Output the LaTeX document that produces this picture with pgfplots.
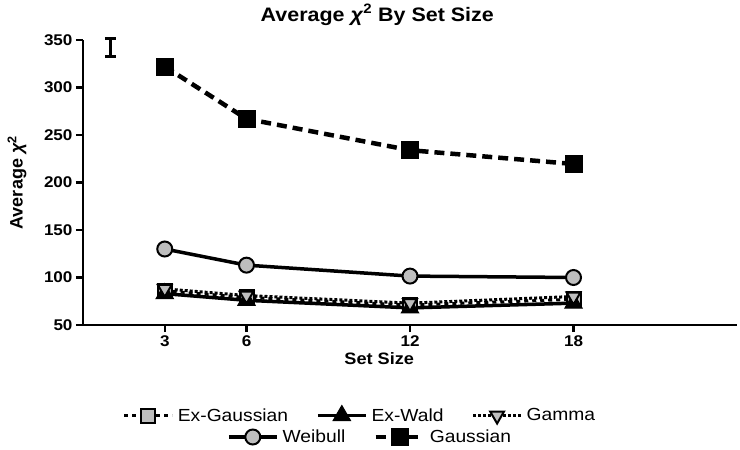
\documentclass[border=0pt]{standalone}
\usepackage{fontspec}
\setmainfont{Liberation Sans}[FakeStretch=1.1]
\newfontfamily\plainsf{Liberation Sans}
\usepackage{pgfplots}
\pgfplotsset{compat=1.18}
\definecolor{mgrey}{HTML}{BEBEBE}

\pgfplotsset{
  exgauss/.style={black, line width=3pt, dash pattern=on 4pt off 4pt,
    mark=square*, mark size=7pt, mark options={solid, fill=mgrey, line width=2pt}},
  exwald/.style={black, line width=3.5pt, solid,
    mark=triangle*, mark size=10pt, mark options={solid, fill=black, line width=1pt}},
  gammad/.style={black, line width=3pt, dash pattern=on 3pt off 2pt,
    mark=triangle*, mark size=8pt, mark options={solid, rotate=180, fill=mgrey, line width=2pt}},
  weib/.style={black, line width=3.5pt, solid,
    mark=*, mark size=7.5pt, mark options={solid, fill=mgrey, line width=2pt}},
  gauss/.style={black, line width=4.5pt, dash pattern=on 10pt off 6pt,
    mark=square*, mark size=8.5pt, mark options={solid, fill=black, line width=1pt}},
  leg/.style={
    legend image code/.code={\draw[mark repeat=2,mark phase=2,##1] plot coordinates {(0pt,0pt) (24pt,0pt) (48pt,0pt)};},
    legend style={draw=none, fill=none, anchor=center,
      font=\fontsize{17.5}{17.5}\selectfont,
      /tikz/every even column/.append style={column sep=26pt},
      /tikz/every odd column/.append style={column sep=2pt}},
  },
}

\begin{document}
\begin{tikzpicture}
\begin{axis}[
  name=ax, scale only axis, width=654pt, height=285pt,
  xmin=0, xmax=24, ymin=50, ymax=350,
  axis lines=left, axis line style={line width=2.5pt, -},
  xtick={3,6,12,18}, ytick={50,100,...,350},
  tick align=outside, major tick length=7pt,
  tick style={line width=2.5pt, black},
  ticklabel style={font=\bfseries\fontsize{15.5}{15.5}\selectfont},
  /pgf/number format/assume math mode=true,
  clip=false,
  leg, legend columns=3,
  legend style={at={(0.4235,-0.316)}},
]
% representative error bar
\addplot[black, line width=2.5pt, mark=none, forget plot,
  error bars/.cd, y dir=both, y explicit,
  error bar style={line width=2.5pt},
  error mark options={rotate=90, mark size=5.5pt, line width=2.5pt}]
  coordinates {(1,342) +- (0,9.5)};

\addplot[exgauss] coordinates {(3,86) (6,79) (12,71) (18,77)};
\addlegendentry{Ex-Gaussian}
\addplot[exwald] coordinates {(3,83) (6,76) (12,68) (18,73)};
\addlegendentry{Ex-Wald}
\addplot[gammad] coordinates {(3,88) (6,81) (12,73) (18,80)};
\addlegendentry{Gamma}
\addplot[weib] coordinates {(3,130) (6,113) (12,101.5) (18,100)};
\addplot[gauss] coordinates {(3,322) (6,267) (12,234) (18,219.5)};

\node[font=\bfseries\fontsize{19.5}{19.5}\selectfont] at (rel axis cs:0.45,1.088)
  {Average \textit{χ}\textsuperscript{2} By Set Size};
\node[font=\bfseries\fontsize{16.5}{16.5}\selectfont] at (rel axis cs:0.453,-0.118) {Set Size};
\node[font=\plainsf\bfseries\fontsize{18}{18}\selectfont, rotate=90] at (rel axis cs:-0.101,0.5)
  {Average \textit{χ}\textsuperscript{2}};
\end{axis}

\begin{axis}[
  at={(ax.south west)}, anchor=south west,
  scale only axis, width=654pt, height=285pt,
  hide axis, xmin=0, xmax=1, ymin=0, ymax=1,
  leg, legend columns=2,
  legend style={at={(0.439,-0.393)}},
]
\addlegendimage{weib}
\addlegendentry{Weibull}
\addlegendimage{gauss}
\addlegendentry{Gaussian}
\end{axis}

\pgfresetboundingbox
\path ([shift={(-83pt,-124pt)}]ax.south west) rectangle ([shift={(3pt,40pt)}]ax.north east);
\end{tikzpicture}
\end{document}
